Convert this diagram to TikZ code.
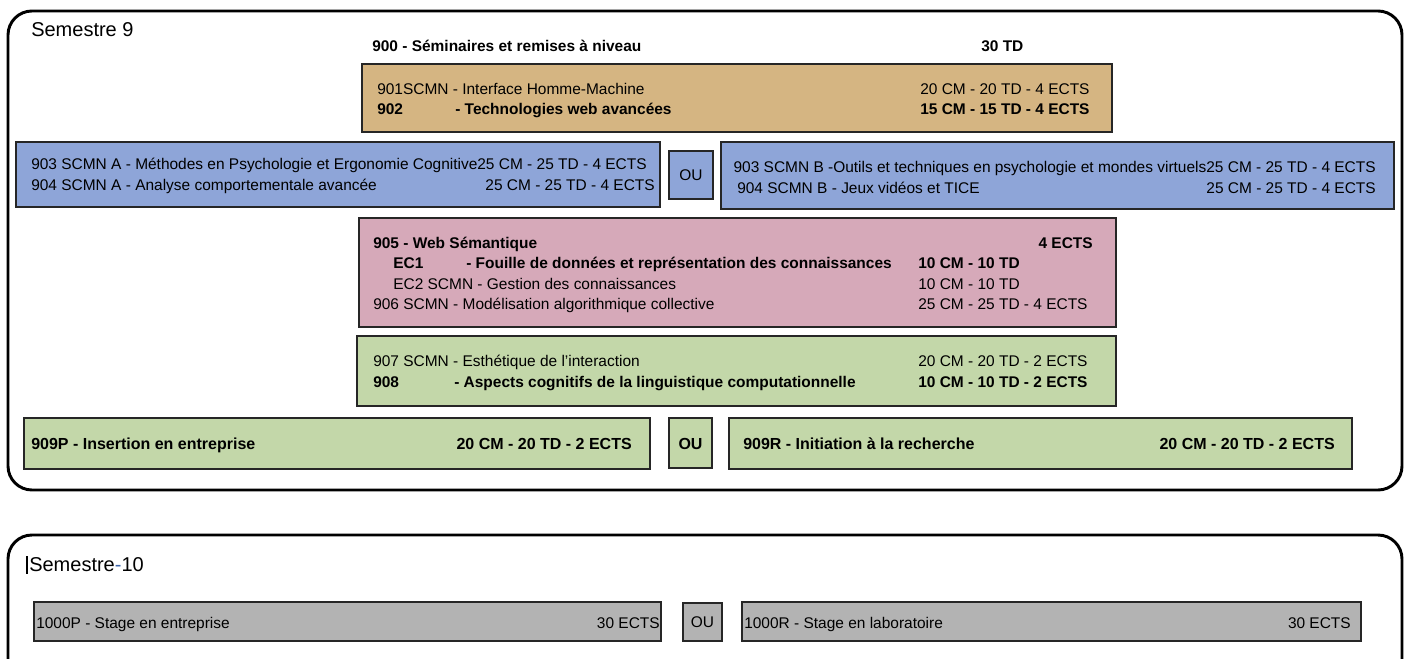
\documentclass[tikz,border=0pt]{standalone}
\usepackage{fontspec}
\setmainfont{Liberation Sans}
\usepackage{tikz}
\definecolor{tan}{RGB}{213,181,130}
\definecolor{bluebox}{RGB}{142,165,216}
\definecolor{pinkbox}{RGB}{214,169,185}
\definecolor{greenbox}{RGB}{195,215,169}
\definecolor{graybox}{RGB}{179,179,179}
\definecolor{hyph}{RGB}{60,100,170}
\newcommand{\txtsize}{\fontsize{11.6}{14}\selectfont}
\newcommand{\bigsize}{\fontsize{12}{14}\selectfont}
\tikzset{
  outer/.style={draw=black, line width=2.2pt, rounded corners=18pt},
  course/.style={draw=black!85, line width=1pt},
  lt/.style={anchor=base west, inner sep=0pt, font=\txtsize},
  rt/.style={anchor=base east, inner sep=0pt, font=\txtsize},
  lb/.style={anchor=base west, inner sep=0pt, font=\txtsize\bfseries},
  rb/.style={anchor=base east, inner sep=0pt, font=\txtsize\bfseries},
  lbb/.style={anchor=base west, inner sep=0pt, font=\bigsize\bfseries},
  rbb/.style={anchor=base east, inner sep=0pt, font=\bigsize\bfseries},
  ou/.style={anchor=center, inner sep=0pt, font=\txtsize},
}
\begin{document}
\begin{tikzpicture}[x=0.75pt, y=-0.75pt]
\useasboundingbox (0,0) rectangle (1406,659);
\clip (0,0) rectangle (1406,659);
% Semestre 9 frame
\draw[outer] (8,11) rectangle (1402,490);
\node[anchor=base west, inner sep=0pt, font=\fontsize{15}{18}\selectfont] (s9) at (31,37) {Semestre 9};
\node[lb] (t900) at (372,52) {900 - Séminaires et remises à niveau};
\node[lb] (t900r) at (981,52) {30 TD};
% orange
\draw[course, fill=tan] (362,64) rectangle (1112,132);
\node[lt] (t901) at (377,95) {901SCMN - Interface Homme-Machine};
\node[lt] (t901r) at (920,95) {20 CM - 20 TD - 4 ECTS};
\node[lb] (t902) at (377,115) {902};
\node[lb] (t902b) at (455,115) {- Technologies web avancées};
\node[lb] (t902r) at (920,115) {15 CM - 15 TD - 4 ECTS};
% blue
\draw[course, fill=bluebox] (16,142) rectangle (660,207);
\node[lt] (t903a) at (31,170) {903 SCMN A - Méthodes en Psychologie et Ergonomie Cognitive25 CM - 25 TD - 4 ECTS};
\node[lt] (t904a) at (31,191) {904 SCMN A - Analyse comportementale avancée};
\node[rt] (t904ar) at (655,191) {25 CM - 25 TD - 4 ECTS};
\draw[course, fill=bluebox] (669,151) rectangle (713,199);
\node[ou] (ou1) at (691,175) {OU};
\draw[course, fill=bluebox] (721,142) rectangle (1394,209);
\node[rt] (t903b) at (1376,173) {903 SCMN B -Outils et techniques en psychologie et mondes virtuels25 CM - 25 TD - 4 ECTS};
\node[lt] (t904b) at (737,194) {904 SCMN B - Jeux vidéos et TICE};
\node[rt] (t904br) at (1376,194) {25 CM - 25 TD - 4 ECTS};
% pink
\draw[course, fill=pinkbox] (359,218) rectangle (1116,327);
\node[lb] (t905) at (373,249) {905 - Web Sémantique};
\node[rb] (t905r) at (1093,249) {4 ECTS};
\node[lb] (tec1) at (393,269) {EC1};
\node[lb] (tec1b) at (466,269) {- Fouille de données et représentation des connaissances};
\node[lb] (tec1r) at (918,269) {10 CM - 10 TD};
\node[lt] (tec2) at (393,290) {EC2 SCMN - Gestion des connaissances};
\node[lt] (tec2r) at (918,290) {10 CM - 10 TD};
\node[lt] (t906) at (373,310) {906 SCMN - Modélisation algorithmique collective};
\node[lt] (t906r) at (918,310) {25 CM - 25 TD - 4 ECTS};
% green
\draw[course, fill=greenbox] (357,336) rectangle (1116,406);
\node[lt] (t907) at (373,366) {907 SCMN - Esthétique de l'interaction};
\node[lt] (t907r) at (918,366) {20 CM - 20 TD - 2 ECTS};
\node[lb] (t908) at (373,387) {908};
\node[lb] (t908b) at (454,387) {- Aspects cognitifs de la linguistique computationnelle};
\node[lb] (t908r) at (918,387) {10 CM - 10 TD - 2 ECTS};
% 909
\draw[course, fill=greenbox] (24,418) rectangle (650,469);
\node[lbb] (t909p) at (31,449) {909P - Insertion en entreprise};
\node[rbb] (t909pr) at (632,449) {20 CM - 20 TD - 2 ECTS};
\draw[course, fill=greenbox] (669,418) rectangle (712,468);
\node[ou, font=\bigsize\bfseries] (ou2) at (690.5,444) {OU};
\draw[course, fill=greenbox] (729,418) rectangle (1352,469);
\node[lbb] (t909r) at (743,449) {909R - Initiation à la recherche};
\node[rbb] (t909rr) at (1335,449) {20 CM - 20 TD - 2 ECTS};
% Semestre 10 frame
\draw[outer] (8,535) rectangle (1402,700);
\draw[line width=1.2pt] (27,556) -- (27,574);
\node[anchor=base west, inner sep=0pt, font=\fontsize{15}{18}\selectfont] (s10) at (29,571) {Semestre{\color{hyph}-}10};
\draw[course, fill=graybox] (34,602) rectangle (661,641);
\node[lt] (t1000p) at (36,628) {1000P - Stage en entreprise};
\node[rt] (t1000pr) at (660,628) {30 ECTS};
\draw[course, fill=graybox] (683,603) rectangle (722,641);
\node[ou] (ou3) at (702.5,622) {OU};
\draw[course, fill=graybox] (742,602) rectangle (1361,641);
\node[lt] (t1000r) at (744,628) {1000R - Stage en laboratoire};
\node[rt] (t1000rr) at (1351,628) {30 ECTS};
\end{tikzpicture}
\end{document}
